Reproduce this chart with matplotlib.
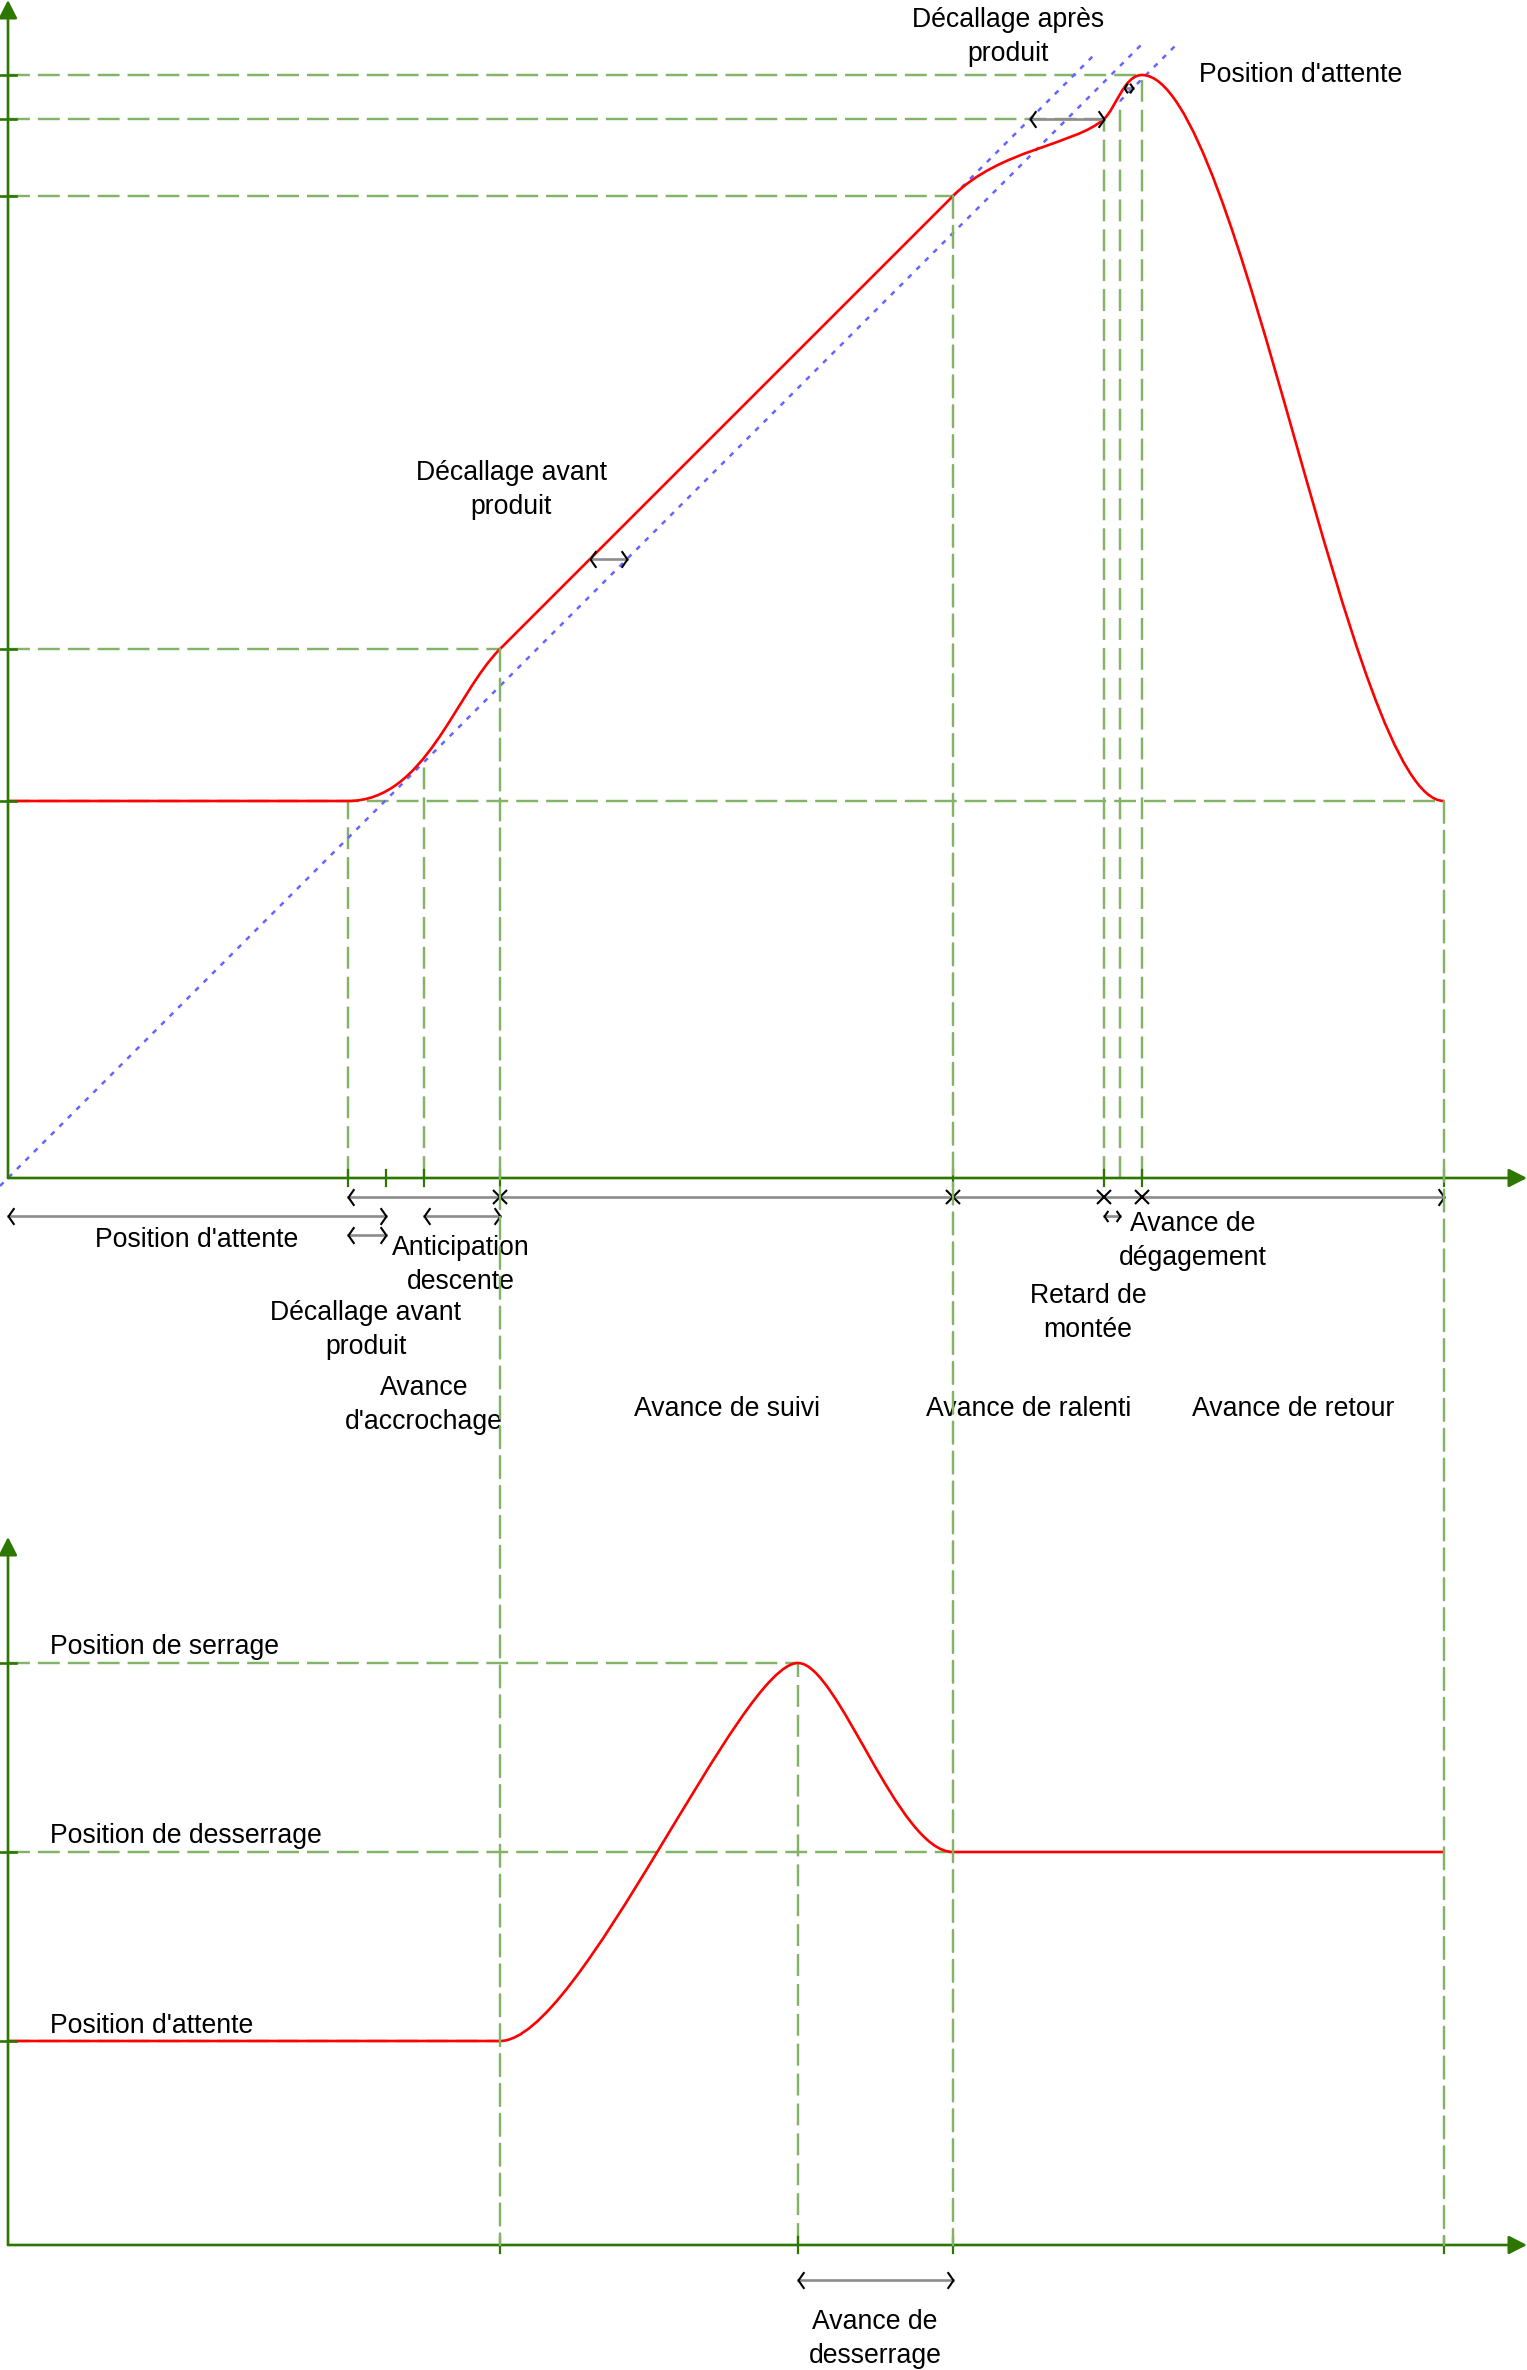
import matplotlib
matplotlib.use("Agg")
import matplotlib.pyplot as plt
from matplotlib.path import Path
from matplotlib.patches import PathPatch, ConnectionPatch

W, H = 1527, 2370
plt.rcParams['font.family'] = ['Liberation Sans', 'DejaVu Sans']

# ---- time marks (shared x scale of both charts) ----
t_wait = 340       # end of waiting position
t_offset = 378     # product offset
t_antic = 416      # descent anticipation
t_hook = 492       # hooking advance
t_unclamp = 790    # unclamping advance (bottom chart)
t_follow = 945     # following advance
t_slow = 1096      # slow-down advance
t_lift = 1112      # lift delay
t_clear = 1134     # clearing advance
t_return = 1436    # return advance

# ---- levels, top chart ----
p_wait = 377
p_hook = 529
p_follow = 982
p_slow = 1059
p_top = 1103

# ---- levels, bottom chart ----
p_clamp = 582
p_unclamp = 393
p_rest = 204

# red motion curve of the top chart (bezier control points)
slide_t = [0, t_wait, 417, 447, t_hook, t_follow, 992, 1067, t_slow,
           1108, 1116, t_clear, 1232, 1342, t_return]
slide_p = [p_wait, p_wait, 377, 484, p_hook, p_follow, 1029, 1033, p_slow,
           1070, p_top, p_top, p_top, p_wait, p_wait]
slide_codes = "MLCCCLCCCCCCCCC"

# red clamp curve of the bottom chart
clamp_t = [0, t_hook, 572, 732, t_unclamp, 830, 890, t_follow, t_return]
clamp_p = [p_rest, p_rest, p_rest, p_clamp, p_clamp, p_clamp, p_unclamp,
           p_unclamp, p_unclamp]
clamp_codes = "MLCCCCCCL"

# blue product lines: p = t + offset
cam_offset = [0, 37, -35]
cam_start = [-8, t_follow, t_lift]
cam_end = [1136, 1087, 1168]

# dimension rows below the top axis
row1, row2, row3 = -19, -38, -57

green = '#82b366'
axis_c = '#2d7600'
red = '#ff0000'
blue = '#6666ff'
FS = 19.2
LS = 1.42

CODE = {'M': Path.MOVETO, 'L': Path.LINETO, 'C': Path.CURVE4}

fig = plt.figure(figsize=(W / 100, H / 100), dpi=100)
ax_top = fig.add_axes([8 / W, (H - 1178) / H, (W - 8) / W, 1178 / H])
ax_bot = fig.add_axes([8 / W, (H - 2245) / H, (W - 8) / W, (2245 - 1537) / H])
ax_top.set_xlim(0, W - 8)
ax_top.set_ylim(0, 1178)
ax_bot.set_xlim(0, W - 8)
ax_bot.set_ylim(0, 2245 - 1537)
for ax in (ax_top, ax_bot):
    ax.axis('off')

dash_g = dict(color=green, lw=1.75, linestyle=(0, (9, 3.3)), clip_on=False, zorder=1)

chev_l = Path([(0.7, 1), (0, 0), (0.7, -1)], [Path.MOVETO, Path.LINETO, Path.LINETO])
chev_r = Path([(-0.7, 1), (0, 0), (-0.7, -1)], [Path.MOVETO, Path.LINETO, Path.LINETO])


def dim(ax, t0, t1, p, ms=12, crosses=()):
    ax.plot([t0, t1], [p, p], color='#8c8c8c', lw=1.9, clip_on=False, zorder=4)
    ax.plot([t0], [p], marker=chev_l, ms=ms, mfc='none', mec='black',
            mew=1.5, clip_on=False, zorder=5)
    ax.plot([t1], [p], marker=chev_r, ms=ms, mfc='none', mec='black',
            mew=1.5, clip_on=False, zorder=5)
    if crosses:
        ax.plot(list(crosses), [p] * len(crosses), ls='none', marker='x', ms=10,
                mec='black', mew=1.5, clip_on=False, zorder=5)


def axes_arrows(ax, xmax, ymax, yticks, xticks):
    ap = dict(arrowstyle='-|>,head_length=0.55,head_width=0.28', color=axis_c,
              lw=1.9, shrinkA=0, shrinkB=0, mutation_scale=20)
    ax.annotate('', xy=(xmax, 0), xytext=(0, 0), arrowprops=ap, annotation_clip=False)
    ax.annotate('', xy=(0, ymax), xytext=(0, 0), arrowprops=ap, annotation_clip=False)
    for p in yticks:
        ax.plot([-8, 8], [p, p], color=axis_c, lw=1.9, clip_on=False, zorder=6)
    for t in xticks:
        ax.plot([t, t], [-8, 8], color=axis_c, lw=1.6, clip_on=False, zorder=6)


# ---------------- top chart ----------------
for p, t in [(p_top, t_clear), (p_slow, t_slow), (p_follow, t_follow),
             (p_hook, t_hook), (p_wait, t_return)]:
    ax_top.plot([0, t], [p, p], **dash_g)
for t, p in [(t_wait, p_wait), (t_antic, t_antic), (t_slow, p_slow),
             (t_lift, t_lift - 35), (t_clear, p_top)]:
    ax_top.plot([t, t], [0, p], **dash_g)

for off, a, b in zip(cam_offset, cam_start, cam_end):
    ax_top.plot([a, b], [a + off, b + off], color=blue, lw=1.8,
                linestyle=(0, (2.0, 2.8)), clip_on=False, zorder=2)

slide = Path(list(zip(slide_t, slide_p)), [CODE[c] for c in slide_codes])
ax_top.add_patch(PathPatch(slide, fc='none', ec=red, lw=1.9, zorder=3, clip_on=False))

axes_arrows(ax_top, W - 8, 1178, [p_top, p_slow, p_follow, p_hook, p_wait],
            [t_wait, t_offset, t_antic, t_hook, t_follow, t_slow, t_clear, t_return])

# dimension arrows
dim(ax_top, t_wait, t_return, row1, crosses=(t_hook, t_follow, t_slow, t_clear))
dim(ax_top, 0, t_offset, row2)
dim(ax_top, t_antic, t_hook, row2)
dim(ax_top, t_wait, t_offset, row3)
dim(ax_top, t_slow, t_lift, row2, ms=8)
dim(ax_top, 582, 582 + 37, 619)
dim(ax_top, p_slow - 37, t_slow, p_slow)
dim(ax_top, 1116, 1125, 1090, ms=7)

top_labels = ["Décallage après\nproduit", "Position d'attente", "Décallage avant\nproduit",
              "Position d'attente", "Anticipation\ndescente", "Décallage avant\nproduit",
              "Avance\nd'accrochage", "Avance de suivi", "Avance de ralenti",
              "Avance de retour", "Retard de\nmontée", "Avance de\ndégagement"]
top_label_t = [1000, 1191, 503, 189, 453, 358, 416, 719, 1021, 1285, 1080, 1185]
top_label_p = [1141, 1103, 688, -62, -87, -152, -227, -231, -231, -231, -135, -63]
top_label_ha = ['center', 'left'] + ['center'] * 10
for s, t, p, ha in zip(top_labels, top_label_t, top_label_p, top_label_ha):
    ax_top.text(t, p, s, ha=ha, va='center', fontsize=FS, linespacing=LS,
                multialignment='center', zorder=7)

# ---------------- bottom chart ----------------
for p, t in [(p_clamp, t_unclamp), (p_unclamp, t_follow), (p_rest, t_hook)]:
    ax_bot.plot([0, t], [p, p], **dash_g)
ax_bot.plot([t_unclamp, t_unclamp], [0, p_clamp], **dash_g)

for t, p in [(t_hook, p_hook), (t_follow, p_follow), (t_return, p_wait)]:
    con = ConnectionPatch(xyA=(t, p), coordsA=ax_top.transData,
                          xyB=(t, 0), coordsB=ax_bot.transData,
                          color=green, lw=1.75, linestyle=(0, (9, 3.3)), zorder=1)
    fig.add_artist(con)

clamp = Path(list(zip(clamp_t, clamp_p)), [CODE[c] for c in clamp_codes])
ax_bot.add_patch(PathPatch(clamp, fc='none', ec=red, lw=1.9, zorder=3, clip_on=False))

axes_arrows(ax_bot, W - 8, 2245 - 1537, [p_clamp, p_unclamp, p_rest],
            [t_hook, t_unclamp, t_follow, t_return])

dim(ax_bot, t_unclamp, t_follow, -35)

bot_labels = ["Position de serrage", "Position de desserrage", "Position d'attente",
              "Avance de\ndesserrage"]
bot_label_t = [42, 42, 42, 867]
bot_label_p = [598, 409, 219, -94]
bot_label_ha = ['left', 'left', 'left', 'center']
for s, t, p, ha in zip(bot_labels, bot_label_t, bot_label_p, bot_label_ha):
    ax_bot.text(t, p, s, ha=ha, va='center', fontsize=FS, linespacing=LS,
                multialignment='center', zorder=7)

fig.savefig('out.png', dpi=100, facecolor='white')
